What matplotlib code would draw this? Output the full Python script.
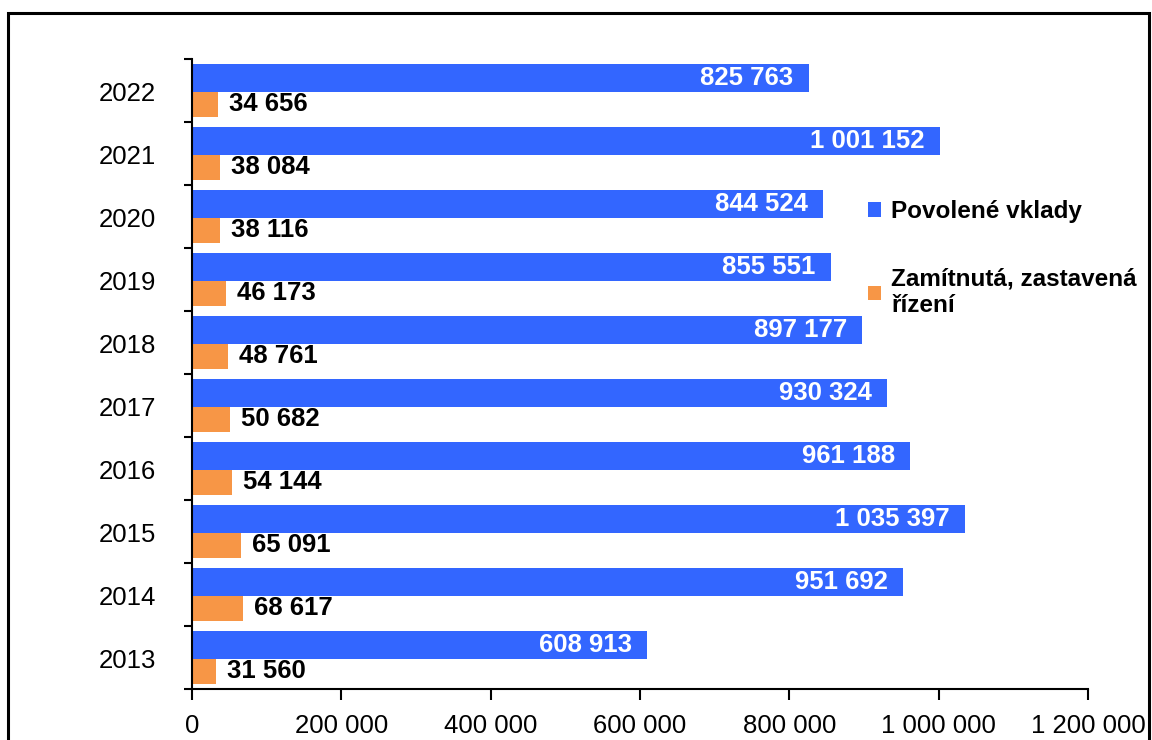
import matplotlib
matplotlib.use('Agg')
from matplotlib import pyplot as plt
from matplotlib.patches import Rectangle
import numpy as np

plt.rcParams['font.family'] = ['Liberation Sans', 'DejaVu Sans']

years = ['2013', '2014', '2015', '2016', '2017', '2018', '2019', '2020', '2021', '2022']
povolene = [608913, 951692, 1035397, 961188, 930324, 897177, 855551, 844524, 1001152, 825763]
zamitnuta = [31560, 68617, 65091, 54144, 50682, 48761, 46173, 38116, 38084, 34656]
xticks = [0, 200000, 400000, 600000, 800000, 1000000, 1200000]
labels = ['Povolené vklady', 'Zamítnutá, zastavená\nřízení']

blue = '#3366FF'
orange = '#F79646'

def fmt(v):
    return '{:,}'.format(v).replace(',', ' ')

fig = plt.figure(figsize=(11.52, 7.4), dpi=100)
ax = fig.add_axes([192/1152, 51/740, 896/1152, 630/740])

y = np.arange(len(years))
hb = 0.444
ho = 0.397
# blue bar sits on top of the orange one in each slot
b1 = ax.barh(y, povolene, height=hb, align='edge', color=blue, label=labels[0])
b2 = ax.barh(y - ho, zamitnuta, height=ho, align='edge', color=orange, label=labels[1])

for r, v in zip(b1, povolene):
    ax.annotate(fmt(v), (v, r.get_y() + r.get_height()/2), xytext=(-15, 0),
                textcoords='offset pixels', ha='right', va='center',
                color='white', fontsize=18.5, fontweight='bold')
for r, v in zip(b2, zamitnuta):
    ax.annotate(fmt(v), (v, r.get_y() + r.get_height()/2), xytext=(11, 0),
                textcoords='offset pixels', ha='left', va='center',
                color='black', fontsize=18.5, fontweight='bold')

off = 0.523
ax.set_xlim(0, 1200000)
ax.set_ylim(off - 1, 9 + off)
ax.set_xticks(xticks)
ax.set_xticklabels([fmt(t) for t in xticks], fontsize=18.5)
ax.set_yticks(y)
ax.set_yticklabels(years, fontsize=18.5)
ax.set_yticks(np.arange(len(years) + 1) + off - 1, minor=True)
ax.tick_params(axis='y', which='major', length=0, pad=26)
ax.tick_params(axis='y', which='minor', length=6, width=1.5)
ax.tick_params(axis='x', length=8, width=1.5, pad=10)
for s in ['top', 'right']:
    ax.spines[s].set_visible(False)
ax.spines['left'].set_linewidth(1.5)
ax.spines['bottom'].set_linewidth(1.5)

leg = fig.legend(handles=[b1, b2], labels=labels, loc='upper left',
                 bbox_to_anchor=(846/1152, 1 - 178/740), frameon=False,
                 prop={'weight': 'bold', 'size': 17.5}, handlelength=0.55,
                 handleheight=0.55, handletextpad=0.4, labelspacing=1.85)

fig.patches.append(Rectangle((8/1152, -0.05), 1141/1152, 1.05 - 13/740,
                             transform=fig.transFigure, fill=False,
                             edgecolor='black', linewidth=2.2))

fig.savefig('out.png', dpi=100)
plt.close()
